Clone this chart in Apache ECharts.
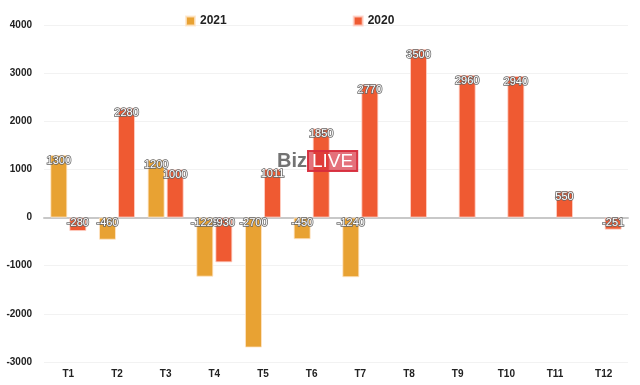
<!DOCTYPE html>
<html><head><meta charset="utf-8">
<script src="https://cdn.jsdelivr.net/npm/echarts@6/dist/echarts.min.js"></script>
<style>html,body{margin:0;padding:0;background:#fff}#c{width:640px;height:385px}</style>
</head><body><div id="c"></div>
<script>
var categories = ['T1','T2','T3','T4','T5','T6','T7','T8','T9','T10','T11','T12'];
var s2021 = [1300, -460, 1200, -1228, -2700, -450, -1240, null, null, null, null, null];
var s2020 = [-280, 2280, 1000, -930, 1011, 1850, 2770, 3500, 2960, 2940, 550, -251];
var yTicks = [-3000, -2000, -1000, 0, 1000, 2000, 3000, 4000];

var chart = echarts.init(document.getElementById('c'));
var font = 'Liberation Sans, Arial, sans-serif';
var lbl = {
  show: true, position: 'insideTop', distance: 0, color: '#fff', fontSize: 11,
  fontFamily: font, textBorderColor: '#666', textBorderWidth: 1.5
};
chart.setOption({
  animation: false,
  textStyle: {fontFamily: font},
  legend: {
    top: 10, left: 180, itemGap: 126, itemWidth: 9, itemHeight: 9, icon: 'rect',
    textStyle: {fontWeight: 'bold', fontSize: 12, color: '#222', fontFamily: font}
  },
  grid: {left: 44, right: 12, top: 25, bottom: 23},
  xAxis: {
    type: 'category', data: categories,
    axisLine: {lineStyle: {color: '#c8c8c8', width: 2}},
    axisTick: {show: false},
    axisLabel: {fontWeight: 'bold', fontSize: 10, color: '#222', margin: 7}
  },
  yAxis: {
    type: 'value', min: yTicks[0], max: yTicks[yTicks.length-1], interval: 1000,
    axisLine: {show: false}, axisTick: {show: false},
    splitLine: {lineStyle: {color: '#f2f2f2'}},
    axisLabel: {fontWeight: 'bold', fontSize: 10, color: '#222', margin: 12,
      formatter: function (v) { return String(v); }}
  },
  graphic: [
    {type: 'text', left: 277, top: 151, z: 10, style: {text: 'Biz', fontSize: 20, fontWeight: 'bold', fill: 'rgba(100,100,100,0.9)', fontFamily: font}},
    {type: 'text', left: 307, top: 150, z: 10, style: {text: 'LIVE', fontSize: 19, fill: '#fff', fontFamily: font,
      backgroundColor: 'rgba(215,45,60,0.68)', padding: [1, 4, 0, 4], borderColor: 'rgba(215,45,60,0.95)', borderWidth: 1}}
  ],
  series: [
    {name: '2021', type: 'bar', data: s2021, barWidth: 17, barGap: '12%',
     itemStyle: {color: '#E8A233', borderColor: 'rgba(255,230,200,0.8)', borderWidth: 1}, label: lbl},
    {name: '2020', type: 'bar', data: s2020, barWidth: 17,
     itemStyle: {color: '#EF5A32', borderColor: 'rgba(255,210,200,0.8)', borderWidth: 1}, label: lbl}
  ]
});
</script></body></html>
